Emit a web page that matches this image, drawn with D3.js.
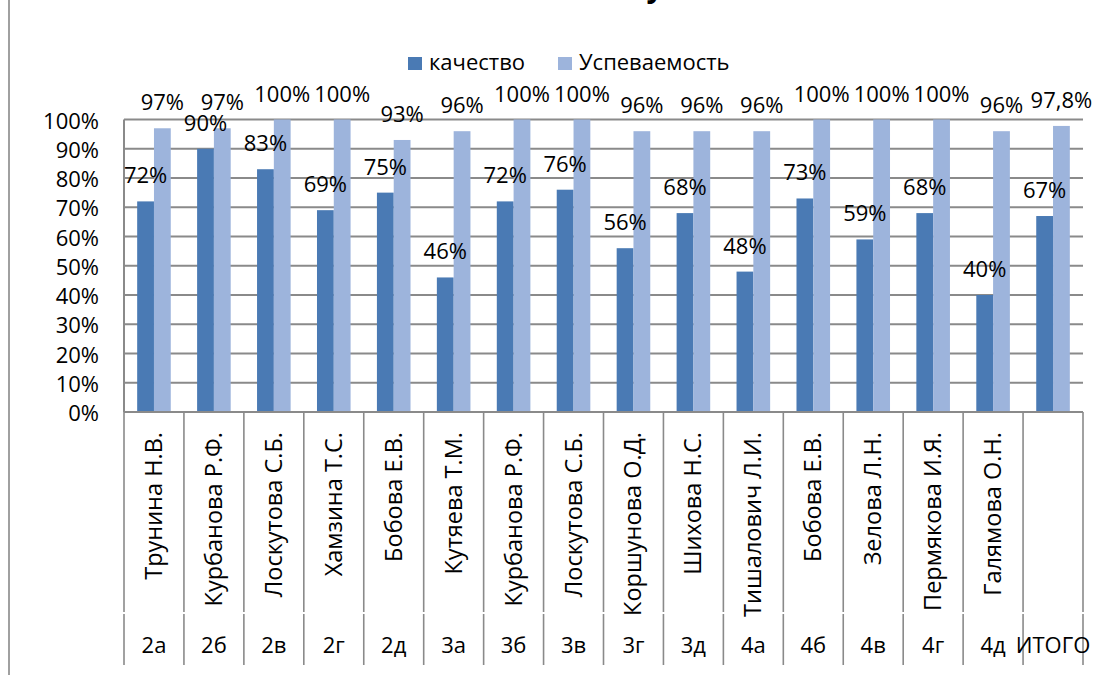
<!DOCTYPE html>
<html>
<head>
<meta charset="utf-8">
<script src="https://cdn.jsdelivr.net/npm/d3@7"></script>
<style>
  body { margin: 0; background: #fff; }
  svg { display: block; }
  text { font-family: "Open Sans", sans-serif; fill: #000; }
</style>
</head>
<body>
<svg width="1109" height="675"></svg>
<script>
// chart data
var classes = ["2а","2б","2в","2г","2д","3а","3б","3в","3г","3д","4а","4б","4в","4г","4д","ИТОГО"];
var teachers = ["Трунина Н.В.","Курбанова Р.Ф.","Лоскутова С.Б.","Хамзина Т.С.","Бобова Е.В.","Кутяева Т.М.",
  "Курбанова Р.Ф.","Лоскутова С.Б.","Коршунова О.Д.","Шихова Н.С.","Тишалович Л.И.","Бобова Е.В.",
  "Зелова Л.Н.","Пермякова И.Я.","Галямова О.Н.",""];
var seriesNames = ["качество","Успеваемость"];
var quality = [72,90,83,69,75,46,72,76,56,68,48,73,59,68,40,67];
var success = [97,97,100,100,93,96,100,100,96,96,96,100,100,100,96,97.8];
var yTicks = [0,10,20,30,40,50,60,70,80,90,100];

var colors = ["#4a7ab4","#9db4dc"];
var gridColor = "#8a8a8a";

var svg = d3.select("svg");

// plot area
var plotLeft = 124, plotRight = 1083, plotTop = 119.5, plotBottom = 412;

var x0 = d3.scaleBand().domain(d3.range(classes.length)).range([plotLeft, plotRight]);
var x1 = d3.scaleBand().domain([0,1]).range([0, x0.bandwidth()]).paddingOuter(0.784);
var y = d3.scaleLinear().domain([0,100]).range([plotBottom, plotTop]);

// frame line at the left edge and a cut title
svg.append("line").attr("x1",9).attr("x2",9).attr("y1",0).attr("y2",675)
  .attr("stroke","#a0a0a0").attr("stroke-width",2);
svg.append("text").attr("x",655).attr("y",-3).attr("text-anchor","middle")
  .style("font-size","30px").style("font-weight","bold").text("у");

// gridlines
svg.append("g").selectAll("line").data(yTicks).enter().append("line")
  .attr("x1", plotLeft).attr("x2", plotRight)
  .attr("y1", function(d){ return y(d); }).attr("y2", function(d){ return y(d); })
  .attr("stroke", gridColor).attr("stroke-width", 2);
// value axis line
svg.append("line").attr("x1",plotLeft).attr("x2",plotLeft).attr("y1",plotTop).attr("y2",plotBottom)
  .attr("stroke", gridColor).attr("stroke-width", 2);

// y tick labels
svg.append("g").selectAll("text").data(yTicks).enter().append("text")
  .attr("x", 99).attr("y", function(d){ return y(d) + 9; })
  .attr("text-anchor","end").style("font-size","22px")
  .text(function(d){ return d + "%"; });

// bars
var series = [quality, success];
var groups = svg.append("g").selectAll("g").data(series).enter().append("g")
  .attr("fill", function(d,i){ return colors[i]; });
groups.each(function(vals, si) {
  var g = d3.select(this);
  g.selectAll("rect").data(vals).enter().append("rect")
    .attr("x", function(d,i){ return x0(i) + x1(si); })
    .attr("width", x1.bandwidth())
    .attr("y", function(d){ return y(d); })
    .attr("height", function(d){ return plotBottom - y(d); });
  // data labels
  svg.append("g").selectAll("text").data(vals).enter().append("text")
    .attr("x", function(d,i){ return x0(i) + x1(si) + x1.bandwidth()/2; })
    .attr("y", function(d){ return y(d) - 18; })
    .attr("text-anchor","middle").style("font-size","22px")
    .text(function(d){ return String(d).replace(".", ",") + "%"; });
});

// category axis (two levels)
var bounds = d3.range(classes.length + 1).map(function(i){ return plotLeft + i * x0.step(); });
var axis = svg.append("g");
axis.append("line").attr("x1",plotLeft).attr("x2",plotRight).attr("y1",plotBottom).attr("y2",plotBottom)
  .attr("stroke", gridColor).attr("stroke-width", 2);
axis.selectAll("line.a").data(bounds).enter().append("line")
  .attr("x1", function(d){ return d; }).attr("x2", function(d){ return d; })
  .attr("y1", plotBottom).attr("y2", 612)
  .attr("stroke", gridColor).attr("stroke-width", 1.6);
axis.selectAll("line.b").data(bounds).enter().append("line")
  .attr("x1", function(d){ return d; }).attr("x2", function(d){ return d; })
  .attr("y1", 614).attr("y2", 665)
  .attr("stroke", gridColor).attr("stroke-width", 1.6);

axis.selectAll("text.name").data(teachers).enter().append("text")
  .attr("transform", function(d,i){ return "translate(" + (x0(i) + x0.bandwidth()/2 + 8) + ",432) rotate(-90)"; })
  .attr("text-anchor","end").style("font-size","23.5px")
  .text(function(d){ return d; });

axis.selectAll("text.cls").data(classes).enter().append("text")
  .attr("x", function(d,i){ return x0(i) + x0.bandwidth()/2; })
  .attr("y", 653).attr("text-anchor","middle").style("font-size","22px")
  .text(function(d){ return d; });

// legend
var legend = svg.append("g");
var legendX = [408, 558];
seriesNames.forEach(function(name, i) {
  legend.append("rect").attr("x", legendX[i]).attr("y", 57).attr("width", 14).attr("height", 13)
    .attr("fill", colors[i]);
  legend.append("text").attr("x", legendX[i] + 21).attr("y", 70)
    .style("font-size","22px").text(name);
});
</script>
</body>
</html>
